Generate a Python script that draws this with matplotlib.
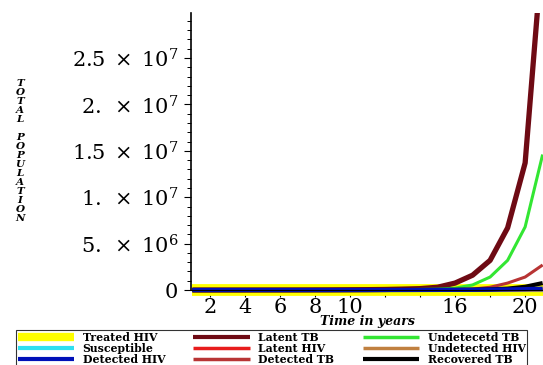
import numpy as np
import matplotlib.pyplot as plt
from matplotlib.ticker import MultipleLocator, FixedLocator, FixedFormatter

plt.rcParams["mathtext.fontset"] = "dejavuserif"
plt.rcParams["font.family"] = "DejaVu Serif"

# time in years
years = [1, 2, 3, 4, 5, 6, 7, 8, 9, 10, 11, 12, 13, 14, 15, 16, 17, 18, 19, 20, 21]

# populations (most series stay near zero on this scale)
treated_hiv = [2e4, 2e4, 2e4, 2e4, 2e4, 2e4, 2e4, 2e4, 2e4, 2e4, 2e4, 2e4, 2e4, 2e4, 2e4, 2e4, 2e4, 2e4, 2e4, 2e4, 2e4]
susceptible = [1e4, 1e4, 1e4, 1e4, 1e4, 1e4, 1e4, 1e4, 1e4, 1e4, 1e4, 1e4, 1e4, 1e4, 1e4, 1e4, 1e4, 1e4, 1e4, 1e4, 1e4]
detected_hiv = [1e3, 1e3, 1e3, 1e3, 1e3, 1e3, 1e3, 1e3, 1e3, 2e3, 3e3, 4e3, 6e3, 8e3, 1e4, 2e4, 3e4, 5e4, 7e4, 1e5, 1.5e5]
latent_tb = [1e3, 2e3, 3e3, 4e3, 6e3, 8e3, 1e4, 1.5e4, 2e4, 3e4, 4e4, 6e4, 1e5, 1.5e5, 3e5, 7.5e5, 1.6e6, 3.2e6, 6.7e6, 1.37e7, 3.7e7]
latent_hiv = [1e3, 1e3, 1e3, 1e3, 1e3, 1e3, 1e3, 1e3, 1e3, 1e3, 1e3, 2e3, 2e3, 3e3, 4e3, 5e3, 6e3, 8e3, 1e4, 1.2e4, 1.5e4]
detected_tb = [1e2, 2e2, 3e2, 5e2, 8e2, 1e3, 2e3, 3e3, 4e3, 6e3, 8e3, 1e4, 1.5e4, 2e4, 3e4, 5e4, 1e5, 3e5, 7.5e5, 1.4e6, 2.7e6]
undetected_tb = [1e2, 3e2, 5e2, 8e2, 1e3, 2e3, 3e3, 5e3, 8e3, 1e4, 1.5e4, 2.5e4, 4e4, 7e4, 1e5, 2e5, 5.5e5, 1.4e6, 3.2e6, 6.8e6, 1.46e7]
undetected_hiv = [1e3, 1e3, 1e3, 1e3, 1e3, 1e3, 1e3, 1e3, 1e3, 1e3, 1e3, 1e3, 2e3, 2e3, 3e3, 3e3, 4e3, 5e3, 6e3, 8e3, 1e4]
recovered_tb = [0, 0, 0, 0, 0, 1e2, 2e2, 4e2, 6e2, 1e3, 2e3, 3e3, 5e3, 8e3, 1.2e4, 2e4, 4e4, 7e4, 1.5e5, 3.5e5, 7.5e5]

x_ticks = [2, 4, 6, 8, 10, 12, 14, 16, 18, 20]
x_tick_labels = ["2", "4", "6", "8", "10", "", "", "16", "", "20"]
y_ticks = [0, 5e6, 1e7, 1.5e7, 2e7, 2.5e7]
y_tick_labels = ["0", r"$5.\;\times\;10^{6}$", r"$1.\;\times\;10^{7}$", r"$1.5\;\times\;10^{7}$",
                 r"$2.\;\times\;10^{7}$", r"$2.5\;\times\;10^{7}$"]

W, H = 543, 365
fig = plt.figure(figsize=(W / 100, H / 100), dpi=100)
ax = fig.add_axes([191 / W, (H - 295.6) / H, (W - 191) / W, (295.6 - 13) / H])

series = [
    (treated_hiv, "Treated HIV", "#FFFF00", 8.5),
    (susceptible, "Susceptible", "#30E0F0", 3),
    (latent_tb, "Latent TB", "#6E0A14", 3.8),
    (latent_hiv, "Latent HIV", "#E81C1C", 2.2),
    (undetected_tb, "Undetecetd TB", "#33E633", 2.2),
    (undetected_hiv, "Undetected HIV", "#C08040", 2.2),
    (detected_tb, "Detected TB", "#B83434", 2.2),
    (recovered_tb, "Recovered TB", "#000000", 3),
    (detected_hiv, "Detected HIV", "#0010B8", 3),
]
lines = {}
for vals, name, col, lw in series:
    lines[name] = ax.plot(years, vals, color=col, lw=lw, label=name,
                          solid_capstyle="butt")[0]

ax.set_xlim(0.92, 21.02)
ax.set_ylim(-6e5, 2.985e7)
ax.spines["top"].set_visible(False)
ax.spines["right"].set_visible(False)
ax.spines["bottom"].set_position(("data", 0))
ax.spines["left"].set_bounds(0, 2.985e7)
ax.spines["left"].set_linewidth(1.2)

ax.xaxis.set_major_locator(FixedLocator(x_ticks))
ax.xaxis.set_major_formatter(FixedFormatter(x_tick_labels))
ax.xaxis.set_minor_locator(MultipleLocator(1))
ax.yaxis.set_major_locator(FixedLocator(y_ticks))
ax.yaxis.set_major_formatter(FixedFormatter(y_tick_labels))
ax.yaxis.set_minor_locator(MultipleLocator(1e6))
ax.tick_params(axis="both", which="major", labelsize=15, length=5, width=0.8)
ax.tick_params(axis="both", which="minor", length=3, width=0.7)
ax.tick_params(axis="x", pad=1)
ax.tick_params(axis="y", pad=4)

# axis titles
fig.text(367 / W, 1 - 322 / H, "Time in years", ha="center", va="center",
         fontsize=9, fontweight="bold", fontstyle="italic")
fig.text(20 / W, 1 - 151 / H, "\n".join("TOTAL POPULATION"), ha="center",
         va="center", fontsize=7.5, fontweight="bold", fontstyle="italic",
         linespacing=1.0)

order = ["Treated HIV", "Susceptible", "Detected HIV",
         "Latent TB", "Latent HIV", "Detected TB",
         "Undetecetd TB", "Undetected HIV", "Recovered TB"]
leg = fig.legend([lines[n] for n in order], order, ncol=3,
                 loc="upper left", bbox_to_anchor=(16 / W, 1 - 330 / H),
                 prop={"size": 7.8, "weight": "bold"},
                 frameon=True, fancybox=False, edgecolor="black",
                 borderpad=0.15, labelspacing=0.0, handlelength=5.2,
                 handletextpad=0.8, columnspacing=2.6, borderaxespad=0)
leg.get_frame().set_linewidth(0.8)
for ln, lw in zip(leg.get_lines(), [6, 3, 3, 3, 2.5, 2.5, 2.5, 2.5, 3]):
    ln.set_linewidth(lw)

fig.savefig("out.png", dpi=100)
